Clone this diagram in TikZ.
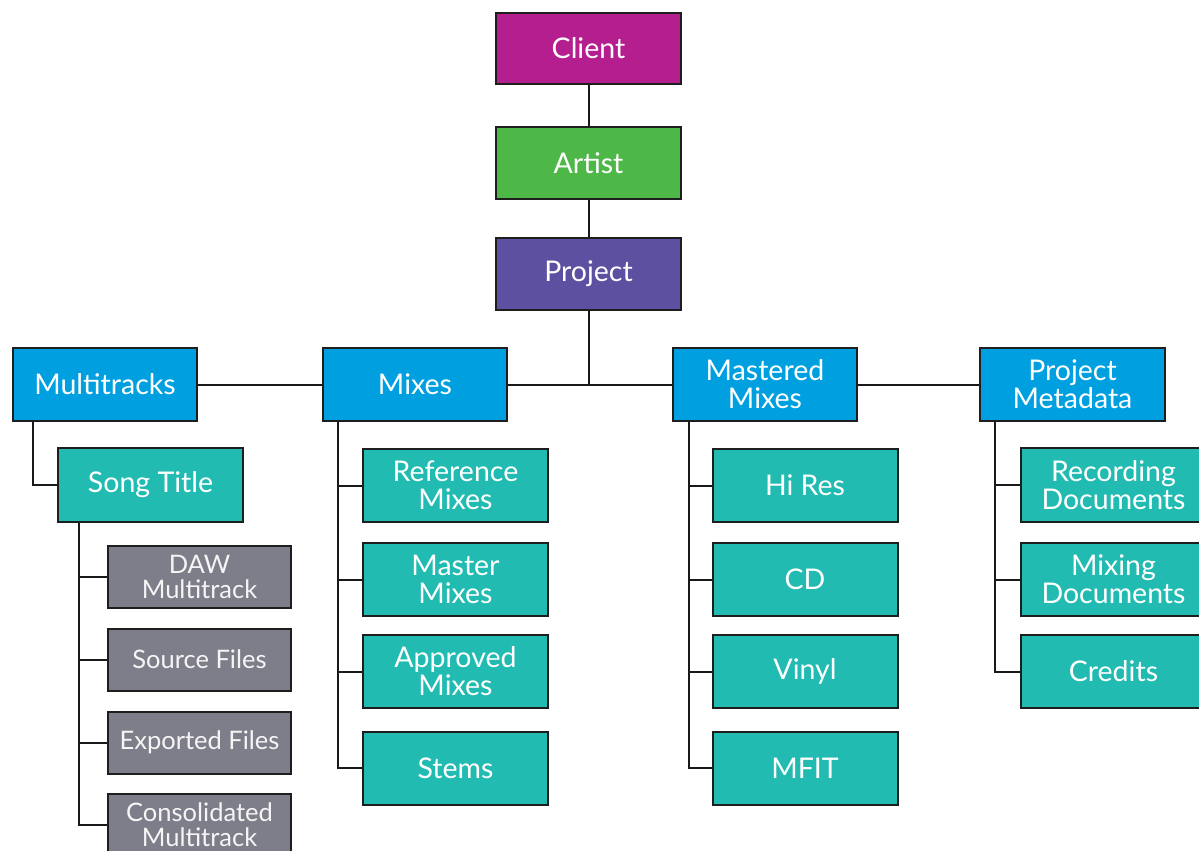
\documentclass[tikz,border=0pt]{standalone}
\usepackage{fontspec}
\setmainfont{Lato}
\pgfdeclarelayer{bg}
\pgfsetlayers{bg,main}
\definecolor{cclient}{HTML}{B41E8E}
\definecolor{cartist}{HTML}{4DB848}
\definecolor{cproject}{HTML}{5E50A1}
\definecolor{cblue}{HTML}{00A0E0}
\definecolor{cteal}{HTML}{22BBB2}
\definecolor{cgray}{HTML}{7E7E8A}
\definecolor{cedge}{HTML}{1E1E1E}
\tikzset{
  box/.style={draw=cedge, line width=2pt, text=white, align=center, inner sep=0pt,
    minimum width=184pt, minimum height=72pt, font=\fontsize{28.5}{28}\selectfont},
  graybox/.style={box, fill=cgray, minimum width=183pt, minimum height=62pt,
    font=\fontsize{25.5}{25}\selectfont, text=white!92!gray},
  link/.style={draw=black!90, line width=2pt}
}
\begin{document}
\begin{tikzpicture}[x=1pt,y=-1pt]
\useasboundingbox (0,0) rectangle (1199,851);
\clip (0,0) rectangle (1199,851);
% top chain
\node[box, fill=cclient, minimum width=185pt, minimum height=71pt] (client) at (588.5,48.5) {Client};
\node[box, fill=cartist, minimum width=185pt] (artist) at (588.5,163) {Artist};
\node[box, fill=cproject, minimum width=185pt] (project) at (588.5,274) {Project};
% level 2
\node[box, fill=cblue, minimum height=73pt] (mt) at (105,384.5) {Multitracks};
\node[box, fill=cblue, minimum height=73pt] (mix) at (415,384.5) {Mixes};
\node[box, fill=cblue, minimum height=73pt] (mm) at (765,384.5) {Mastered\\Mixes};
\node[box, fill=cblue, minimum width=185pt, minimum height=73pt] (pm) at (1072.5,384.5) {Project\\Metadata};
% multitracks branch
\node[box, fill=cteal, minimum width=185pt, minimum height=74pt] (song) at (150.5,485) {Song Title};
\node[graybox] (daw) at (199.5,577) {DAW\\Multitrack};
\node[graybox] (src) at (199.5,659.5) {Source Files};
\node[graybox] (exp) at (199.5,742.5) {Exported Files};
\node[graybox] (cons) at (199.5,825) {Consolidated\\Multitrack};
% mixes branch
\node[box, fill=cteal, minimum width=185pt, minimum height=73pt] (ref) at (455.5,485.5) {Reference\\Mixes};
\node[box, fill=cteal, minimum width=185pt, minimum height=73pt] (mas) at (455.5,579.5) {Master\\Mixes};
\node[box, fill=cteal, minimum width=185pt, minimum height=73pt] (app) at (455.5,671.5) {Approved\\Mixes};
\node[box, fill=cteal, minimum width=185pt, minimum height=73pt] (stems) at (455.5,768) {Stems};
% mastered branch
\node[box, fill=cteal, minimum width=185pt, minimum height=73pt] (hires) at (805,485.5) {Hi Res};
\node[box, fill=cteal, minimum width=185pt, minimum height=73pt] (cd) at (805,579.5) {CD};
\node[box, fill=cteal, minimum width=185pt, minimum height=73pt] (vinyl) at (805,671.5) {Vinyl};
\node[box, fill=cteal, minimum width=185pt, minimum height=73pt] (mfit) at (805,768) {MFIT};
% metadata branch
\node[box, fill=cteal, minimum width=185pt, minimum height=74pt] (rec) at (1113.5,485) {Recording\\Documents};
\node[box, fill=cteal, minimum width=185pt, minimum height=73pt] (mixd) at (1113.5,579.5) {Mixing\\Documents};
\node[box, fill=cteal, minimum width=185pt, minimum height=73pt] (cred) at (1113.5,671.5) {Credits};
\begin{pgfonlayer}{bg}
\draw[link] (client) -- (artist);
\draw[link] (artist) -- (project);
\draw[link] (project) -- (project |- mix);
\draw[link] (mt) -- (pm);
\draw[link] ([xshift=21pt]mt.south west) |- (song.west);
\foreach \c in {daw,src,exp,cons}
  \draw[link] ([xshift=22pt]song.south west) |- (\c.west);
\foreach \c in {ref,mas,app,stems}
  \draw[link] ([xshift=16pt]mix.south west) |- (\c.west);
\foreach \c in {hires,cd,vinyl,mfit}
  \draw[link] ([xshift=17pt]mm.south west) |- (\c.west);
\foreach \c in {rec,mixd,cred}
  \draw[link] ([xshift=16pt]pm.south west) |- (\c.west);
\end{pgfonlayer}
\end{tikzpicture}
\end{document}
